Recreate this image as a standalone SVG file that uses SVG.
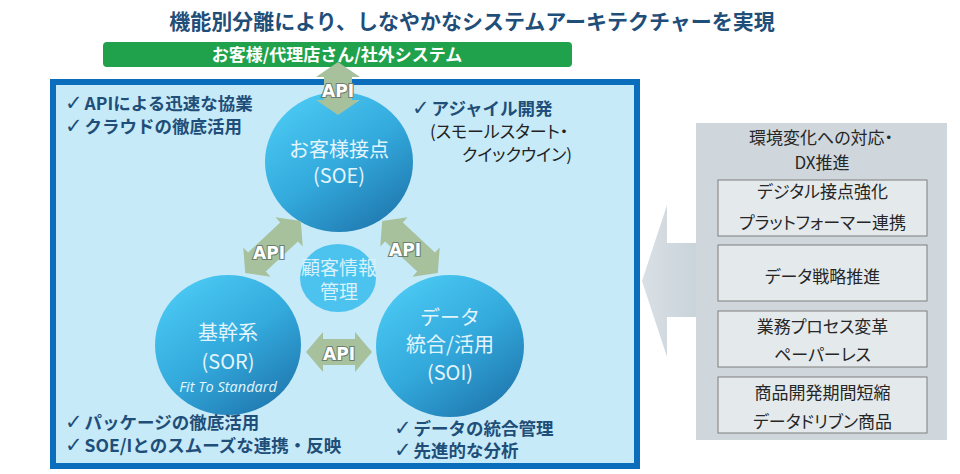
<svg xmlns="http://www.w3.org/2000/svg" width="960" height="474" viewBox="0 0 960 474">
<defs>
<linearGradient id="ball" x1="0.2" y1="0.05" x2="0.85" y2="0.95">
<stop offset="0" stop-color="#4AC8F3"/>
<stop offset="0.5" stop-color="#33A9DC"/>
<stop offset="1" stop-color="#1F78AF"/>
</linearGradient>
<linearGradient id="bigarrow" x1="0" y1="0" x2="1" y2="0">
<stop offset="0" stop-color="#D9E0E5"/>
<stop offset="1" stop-color="#C9D3DA"/>
</linearGradient>
<polygon id="dbl" points="-38,0 -22,-20 -22,-13 22,-13 22,-20 38,0 22,20 22,13 -22,13 -22,20"/>
</defs>
<style>
text{font-family:"Noto Sans CJK JP","Noto Sans",sans-serif}
.title{font-size:21px;font-weight:700;fill:#1F4E79;text-anchor:middle}
.bar{font-size:17px;font-weight:700;fill:#fff;text-anchor:middle}
.bul{font-size:17.5px;font-weight:700;fill:#1F4E79}
.chk{font-weight:400;font-family:"DejaVu Sans",sans-serif;font-size:21px}
.sub{font-size:17px;fill:#222;font-feature-settings:"palt"}
.ct{font-size:20px;fill:#E2F5FD;text-anchor:middle}
.ci{font-family:"Open Sans","Noto Sans",sans-serif;font-style:italic;font-weight:400;font-size:14.5px;fill:#E2F5FD;text-anchor:middle}
.api{font-size:17px;font-weight:700;fill:#fff;stroke:#6E7F72;stroke-width:2.2px;paint-order:stroke;text-anchor:middle;font-family:"DejaVu Sans","Noto Sans",sans-serif}
.arr{fill:#A7C19D}
.rt{font-size:17px;fill:#262626;text-anchor:middle;font-feature-settings:"palt"}
.box{fill:#E4E9EC;stroke:#7F7F7F;stroke-width:1}
</style>
<rect width="960" height="474" fill="#fff"/>
<text class="title" x="472" y="29">機能別分離により、しなやかなシステムアーキテクチャーを実現</text>
<g id="customers">
<rect x="103" y="42" width="469" height="25" rx="4" fill="#1FA24B"/>
<text class="bar" x="337" y="61">お客様/代理店さん/社外システム</text>
</g>
<g id="frame">
<rect x="53" y="82" width="584" height="384" fill="#C6EAF8" stroke="#0A6EBD" stroke-width="6"/>
</g>
<g id="soe">
<ellipse cx="339" cy="162" rx="74" ry="70" fill="url(#ball)"/>
<text class="ct" x="339" y="157">お客様接点</text>
<text class="ct" x="339" y="183">(SOE)</text>
</g>
<g id="customer-info">
<ellipse cx="338" cy="278" rx="38" ry="34" fill="#4CC3EF"/>
<text class="ct" x="339" y="275" style="font-size:19px;fill:#D8F1FB">顧客情報</text>
<text class="ct" x="339" y="299" style="font-size:19px;fill:#D8F1FB">管理</text>
</g>
<g id="sor">
<ellipse cx="228" cy="345" rx="73" ry="70" fill="url(#ball)"/>
<text class="ct" x="228" y="340">基幹系</text>
<text class="ct" x="228" y="369">(SOR)</text>
<text class="ci" x="228" y="392">Fit To Standard</text>
</g>
<g id="soi">
<ellipse cx="450" cy="346" rx="74" ry="71" fill="url(#ball)"/>
<text class="ct" x="450" y="325">データ</text>
<text class="ct" x="450" y="352">統合/活用</text>
<text class="ct" x="450" y="380">(SOI)</text>
</g>
<g id="connectors">
<polygon class="arr" points="338,62 360,77 352,77 352,100 360,100 338,115 316,100 324,100 324,77 316,77"/>
<use href="#dbl" class="arr" transform="translate(273,247) rotate(-43)"/>
<use href="#dbl" class="arr" transform="translate(410,247) rotate(43)"/>
<polygon class="arr" points="306,352 323,332 323,339 355,339 355,332 372,352 355,372 355,365 323,365 323,372"/>
<text class="api" x="338" y="97">API</text>
<text class="api" x="269" y="259">API</text>
<text class="api" x="405" y="256">API</text>
<text class="api" x="339" y="360">API</text>
</g>
<g id="notes">
<text class="bul" x="65" y="110"><tspan class="chk">✓</tspan><tspan dx="2">APIによる迅速な協業</tspan></text>
<text class="bul" x="65" y="133"><tspan class="chk">✓</tspan><tspan dx="2">クラウドの徹底活用</tspan></text>
<text class="bul" x="412" y="115"><tspan class="chk">✓</tspan><tspan dx="2">アジャイル開発</tspan></text>
<text class="sub" x="430" y="138">(スモールスタート・</text>
<text class="sub" x="462" y="161">クイックウイン)</text>
<text class="bul" x="65" y="429"><tspan class="chk">✓</tspan><tspan dx="2">パッケージの徹底活用</tspan></text>
<text class="bul" x="65" y="452"><tspan class="chk">✓</tspan><tspan dx="2">SOE/Iとのスムーズな連携・反映</tspan></text>
<text class="bul" x="394" y="435"><tspan class="chk">✓</tspan><tspan dx="2">データの統合管理</tspan></text>
<text class="bul" x="394" y="457"><tspan class="chk">✓</tspan><tspan dx="2">先進的な分析</tspan></text>
</g>
<g id="dx-panel">
<polygon points="642,281 667,205 667,243 697,243 697,317 667,317 667,357" fill="url(#bigarrow)"/>
<rect x="696" y="123" width="251" height="317" fill="#CFD7DD"/>
<text class="rt" x="821" y="144">環境変化への対応・</text>
<text class="rt" x="822" y="169">DX推進</text>
</g>
<g id="box-digital">
<rect class="box" x="718" y="180" width="209" height="56"/>
<text class="rt" x="822.5" y="198">デジタル接点強化</text>
<text class="rt" x="822.5" y="229">プラットフォーマー連携</text>
</g>
<g id="box-data">
<rect class="box" x="718" y="245" width="209" height="56"/>
<text class="rt" x="822.5" y="283">データ戦略推進</text>
</g>
<g id="box-process">
<rect class="box" x="718" y="311" width="209" height="56"/>
<text class="rt" x="822.5" y="333">業務プロセス変革</text>
<text class="rt" x="822.5" y="361">ペーパーレス</text>
</g>
<g id="box-product">
<rect class="box" x="718" y="377" width="209" height="56"/>
<text class="rt" x="822.5" y="399">商品開発期間短縮</text>
<text class="rt" x="822.5" y="428">データドリブン商品</text>
</g>
</svg>
